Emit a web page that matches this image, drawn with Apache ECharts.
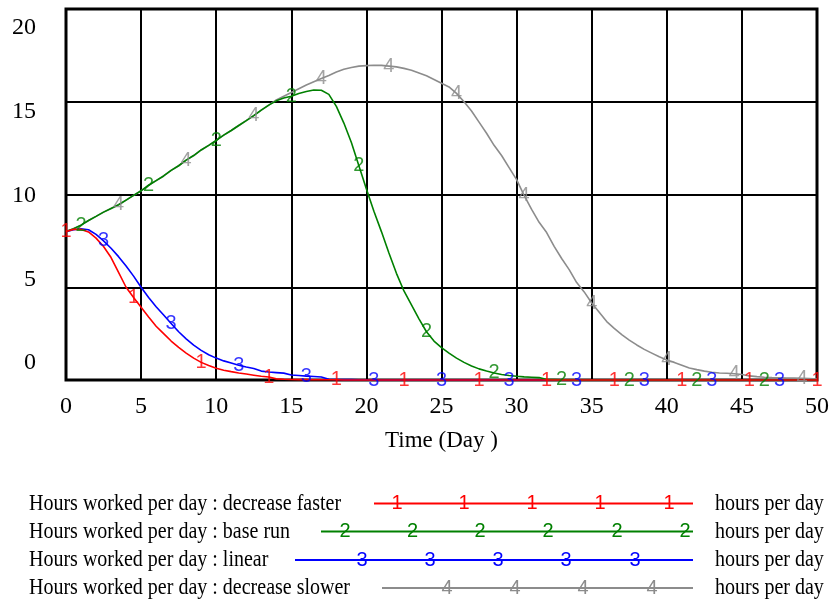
<!DOCTYPE html>
<html><head><meta charset="utf-8">
<script src="https://cdn.jsdelivr.net/npm/echarts@6/dist/echarts.min.js"></script>
<style>html,body{margin:0;padding:0;background:#fff}#c{width:835px;height:605px}</style>
</head><body><div id="c"></div>
<script>
// Simulation time grid (Day), saved every half day from 0 to 50
const TIME_STEP = 0.5;
const dayCount = 101;

// Hours worked per day, one value per half day
const decreaseFaster = [
  8.0, 8.12, 8.12, 7.98, 7.65, 7.2, 6.6, 5.8, 5.0, 4.45,
  3.92, 3.4, 2.9, 2.5, 2.1, 1.76, 1.45, 1.18, 0.95, 0.78,
  0.63, 0.53, 0.45, 0.38, 0.32, 0.26, 0.2, 0.16, 0.06, 0.04,
  0.03, 0.02, 0.02, 0.01, 0.01, 0.01, 0.01, 0, 0, 0,
  0, 0, 0, 0, 0, 0, 0, 0, 0, 0,
  0, 0, 0, 0, 0, 0, 0, 0, 0, 0,
  0, 0, 0, 0, 0, 0, 0, 0, 0, 0,
  0, 0, 0, 0, 0, 0, 0, 0, 0, 0,
  0, 0, 0, 0, 0, 0, 0, 0, 0, 0,
  0, 0, 0, 0, 0, 0, 0, 0, 0, 0,
  0
];
const baseRun = [
  8.0, 8.15, 8.35, 8.6, 8.82, 9.05, 9.25, 9.45, 9.7, 9.95,
  10.2, 10.5, 10.75, 11.0, 11.3, 11.55, 11.85, 12.1, 12.4, 12.65,
  12.92, 13.2, 13.45, 13.72, 13.98, 14.25, 14.55, 14.82, 15.05, 15.2,
  15.3, 15.45, 15.55, 15.63, 15.62, 15.4, 14.75, 13.85, 12.8, 11.55,
  10.3, 9.1, 8.0, 6.85, 5.75, 4.8, 4.05, 3.3, 2.6, 2.1,
  1.75, 1.45, 1.18, 0.95, 0.76, 0.6, 0.48, 0.38, 0.3, 0.24,
  0.2, 0.17, 0.15, 0.13, 0.03, 0.02, 0.01, 0.01, 0, 0,
  0, 0, 0, 0, 0, 0, 0, 0, 0, 0,
  0, 0, 0, 0, 0, 0, 0, 0, 0, 0,
  0, 0, 0, 0, 0, 0, 0, 0, 0, 0,
  0
];
const linear = [
  8.0, 8.1, 8.15, 8.1, 7.85, 7.5, 7.1, 6.65, 6.15, 5.6,
  5.0, 4.45, 3.95, 3.5, 3.05, 2.6, 2.22, 1.88, 1.6, 1.36,
  1.18, 1.03, 0.92, 0.8, 0.7, 0.62, 0.48, 0.43, 0.4, 0.37,
  0.27, 0.24, 0.21, 0.19, 0.16, 0.04, 0.03, 0.02, 0.02, 0.01,
  0.01, 0, 0, 0, 0, 0, 0, 0, 0, 0,
  0, 0, 0, 0, 0, 0, 0, 0, 0, 0,
  0, 0, 0, 0, 0, 0, 0, 0, 0, 0,
  0, 0, 0, 0, 0, 0, 0, 0, 0, 0,
  0, 0, 0, 0, 0, 0, 0, 0, 0, 0,
  0, 0, 0, 0, 0, 0, 0, 0, 0, 0,
  0
];
const decreaseSlower = [
  8.0, 8.15, 8.35, 8.6, 8.82, 9.05, 9.25, 9.45, 9.7, 9.95,
  10.2, 10.5, 10.75, 11.0, 11.3, 11.55, 11.85, 12.1, 12.4, 12.65,
  12.92, 13.2, 13.45, 13.72, 13.98, 14.25, 14.55, 14.82, 15.1, 15.3,
  15.5, 15.7, 15.9, 16.08, 16.25, 16.42, 16.6, 16.75, 16.85, 16.92,
  16.95, 16.97, 16.96, 16.92, 16.88, 16.8, 16.7, 16.55, 16.4, 16.2,
  16.0, 15.8, 15.45, 15.0, 14.5, 13.9, 13.3, 12.65, 12.1, 11.45,
  10.8, 9.95, 9.2, 8.5, 7.95, 7.2, 6.55, 5.95, 5.25, 4.75,
  4.15, 3.65, 3.15, 2.78, 2.45, 2.15, 1.89, 1.65, 1.45, 1.25,
  1.08, 0.95, 0.8, 0.65, 0.56, 0.48, 0.42, 0.38, 0.36, 0.34,
  0.3, 0.22, 0.18, 0.15, 0.13, 0.12, 0.11, 0.1, 0.09, 0.08,
  0.05
];

// Days at which each curve carries its number marker
const markerDays1 = [0, 4.5, 9, 13.5, 18, 22.5, 27.5, 32, 36.5, 41, 45.5, 50];
const markerDays2 = [1, 5.5, 10, 15, 19.5, 24, 28.5, 33, 37.5, 42, 46.5];
const markerDays3 = [2.5, 7, 11.5, 16, 20.5, 25, 29.5, 34, 38.5, 43, 47.5];
const markerDays4 = [3.5, 8, 12.5, 17, 21.5, 26, 30.5, 35, 40, 44.5, 49];

const seriesNames = [
  'Hours worked per day : decrease faster',
  'Hours worked per day : base run',
  'Hours worked per day : linear',
  'Hours worked per day : decrease slower'
];
const unitLabel = 'hours per day';
const xTickValues = [0, 5, 10, 15, 20, 25, 30, 35, 40, 45, 50];
const yTickValues = [0, 5, 10, 15, 20];
const xTitle = 'Time (Day )';

// ---- styling / layout ----
const colors = ['#ff0000', '#008000', '#0000ff', '#8c8c8c'];
const serif = '"Liberation Serif", "Times New Roman", serif';
const sans = '"Liberation Sans", Arial, sans-serif';

const time = [];
for (let i = 0; i < dayCount; i++) time.push(i * TIME_STEP);

const valueSets = [decreaseFaster, baseRun, linear, decreaseSlower];
const markerSets = [markerDays1, markerDays2, markerDays3, markerDays4];
const drawOrder = [3, 2, 1, 0]; // grey, blue, green, red on top

const series = [];
drawOrder.forEach((k, n) => {
  const vals = valueSets[k];
  series.push({
    type: 'line', name: seriesNames[k],
    data: time.map((t, i) => [t, vals[i]]),
    showSymbol: false, clip: false, silent: true,
    lineStyle: { color: colors[k], width: 1.6 },
    itemStyle: { color: colors[k] },
    z: 2 + n
  });
});
[0, 1, 2, 3].forEach(k => {
  const vals = valueSets[k];
  series.push({
    type: 'scatter', name: seriesNames[k] + ' markers',
    data: markerSets[k].map(d => [d, vals[Math.round(d / TIME_STEP)]]),
    symbol: 'circle', symbolSize: 0.5, clip: false, silent: true,
    itemStyle: { color: colors[k] },
    label: {
      show: true, position: 'inside', formatter: String(k + 1),
      color: colors[k], fontFamily: sans, fontSize: 20
    },
    emphasis: { disabled: true },
    z: 10
  });
});

// ---- legend (drawn below the plot) ----
const legendRowY = [503.5, 531.5, 560, 588];
const legendLineStart = [374, 321, 295, 382];
const legendLineEnd = 693;
const legendMarkerX = [
  [397, 464, 532, 600, 669],
  [345, 412.5, 480, 548, 617, 685],
  [362, 430, 498, 566, 635],
  [447, 515, 583, 652]
];
const graphic = [];
[0, 1, 2, 3].forEach(k => {
  const y = legendRowY[k];
  graphic.push({ type: 'text', x: 29, y: y, scaleY: 1.2, silent: true,
    style: { text: seriesNames[k], fontFamily: serif, fontSize: 20, fill: '#000', verticalAlign: 'middle', align: 'left' } });
  graphic.push({ type: 'line', silent: true,
    shape: { x1: legendLineStart[k], y1: y, x2: legendLineEnd, y2: y },
    style: { stroke: colors[k], lineWidth: 2 } });
  legendMarkerX[k].forEach(x => graphic.push({ type: 'text', x: x, y: y, silent: true, z: 10,
    style: { text: String(k + 1), fontFamily: sans, fontSize: 20, fill: colors[k], align: 'center', verticalAlign: 'middle' } }));
  graphic.push({ type: 'text', x: 715, y: y, scaleY: 1.2, silent: true,
    style: { text: unitLabel, fontFamily: serif, fontSize: 20, fill: '#000', verticalAlign: 'middle', align: 'left' } });
});

const chart = echarts.init(document.getElementById('c'), null, { renderer: 'canvas' });
chart.setOption({
  animation: false,
  backgroundColor: '#fff',
  grid: { left: 66, top: 9, width: 751, height: 371, show: true, borderColor: '#000', borderWidth: 3, outerBoundsMode: 'none', containLabel: false },
  xAxis: {
    type: 'value', min: 0, max: 50, interval: 5,
    axisLine: { show: false }, axisTick: { show: false },
    axisLabel: { customValues: xTickValues, margin: 15, fontFamily: serif, fontSize: 24, color: '#000' },
    splitLine: { show: true, lineStyle: { color: '#000', width: 2 } },
    name: xTitle, nameLocation: 'middle', nameGap: 49,
    nameTextStyle: { fontFamily: serif, fontSize: 23, color: '#000' }
  },
  yAxis: [
    {
      type: 'value', min: 0, max: 20, interval: 5,
      axisLine: { show: false }, axisTick: { show: false }, axisLabel: { show: false },
      splitLine: { show: true, lineStyle: { color: '#000', width: 2 } }
    },
    {
      type: 'value', position: 'left', min: -1.015, max: 21.134,
      axisLine: { show: false }, axisTick: { show: false }, splitLine: { show: false },
      axisLabel: { customValues: yTickValues, margin: 30, fontFamily: serif, fontSize: 24, color: '#000' }
    }
  ],
  series: series,
  graphic: graphic
});
</script>
</body></html>
